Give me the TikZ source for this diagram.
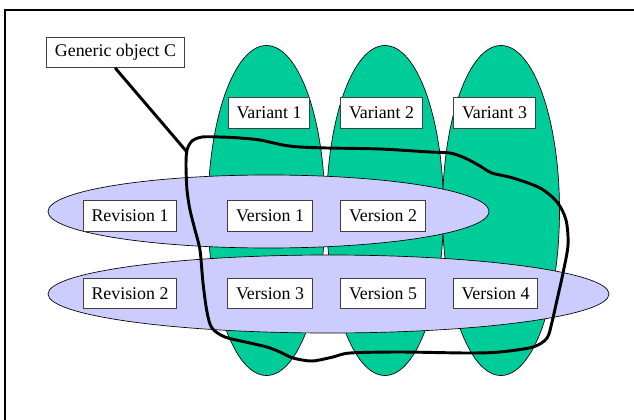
\documentclass[tikz,border=0pt]{standalone}
\usepackage{fontspec}
\setmainfont{Liberation Serif}
\usepackage{tikz}
\definecolor{variantgreen}{HTML}{00CC99}
\definecolor{revlilac}{HTML}{CCCCFF}
\definecolor{boxgray}{HTML}{404040}

\begin{document}
\begin{tikzpicture}[x=0.75pt,y=-0.75pt,
  tagbox/.style={draw=boxgray,line width=0.8pt,fill=white,inner xsep=6.2pt,
    inner ysep=0pt,minimum height=23pt,font=\fontsize{13.4}{16}\selectfont},
  varshape/.style={fill=variantgreen,draw=black,line width=0.5pt},
  revshape/.style={fill=revlilac,draw=black,line width=0.5pt},
  outline/.style={line width=2.2pt,line cap=round,line join=round}]
  \useasboundingbox (0,0) rectangle (634,420);
  \clip (0,0) rectangle (634,420);
  \draw[line width=2pt] (5,10) rectangle (650,440);
  % variants
  \foreach \cx in {266.5,385,501}
    \draw[varshape] (\cx,210.5) ellipse [x radius=58.5, y radius=165];
  % revisions
  \draw[revshape] (268.5,211.5) ellipse [x radius=220.5, y radius=36.5];
  \draw[revshape] (328.5,294) ellipse [x radius=280.5, y radius=39];
  % boundary of the generic object
  \draw[outline] plot[smooth cycle] coordinates {
    (186,165) (187,150) (192,141) (202,137) (220,137) (240,138) (260,140)
    (283,145) (300,147) (327,148) (380,149) (430,152) (450,153) (465,158)
    (480,166) (492,173) (513,178) (540,188) (557,202) (566,220) (568,245)
    (563,273) (557,300) (552,322) (547,338) (533,347) (500,352) (467,353)
    (400,352) (350,353) (333,357) (312,361) (293,358) (280,352) (267,347)
    (250,343) (225,337) (212,328) (207,312) (203,283) (200,250) (195,230)
    (190,210) (187,190)};
  \coordinate (cnote) at (187,152);
  % labels
  \node[tagbox] (gen) at (115.5,52.5) {Generic object C};
  \node[tagbox] (var1) at (269,113) {Variant 1};
  \node[tagbox] (var2) at (381.5,113) {Variant 2};
  \node[tagbox] (var3) at (494.5,113) {Variant 3};
  \node[tagbox] (rev1) at (130,216) {Revision 1};
  \node[tagbox] (ver1) at (270,216) {Version 1};
  \node[tagbox] (ver2) at (383,216) {Version 2};
  \node[tagbox] (rev2) at (130,293.5) {Revision 2};
  \node[tagbox] (ver3) at (270,293.5) {Version 3};
  \node[tagbox] (ver5) at (383,293.5) {Version 5};
  \node[tagbox] (ver4) at (495.5,293.5) {Version 4};
  \draw[outline] (gen.south) -- (cnote);
\end{tikzpicture}
\end{document}
